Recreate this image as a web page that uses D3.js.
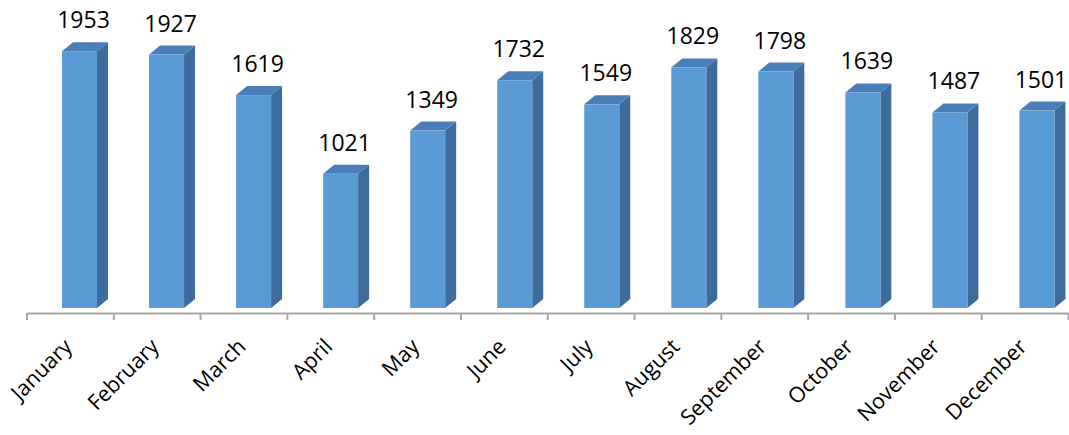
<!DOCTYPE html>
<html>
<head>
<meta charset="utf-8">
<script src="https://cdn.jsdelivr.net/npm/d3@7"></script>
<style>
  html, body { margin: 0; padding: 0; background: #ffffff; }
  svg { display: block; }
</style>
</head>
<body>
<svg id="chart" width="1069" height="435"></svg>
<script>
const months = ["January","February","March","April","May","June","July","August","September","October","November","December"];
const values = [1953, 1927, 1619, 1021, 1349, 1732, 1549, 1829, 1798, 1639, 1487, 1501];

const svg = d3.select("#chart");

const x = d3.scaleBand().domain(months).range([27, 1068.5]).padding(0);
const y = d3.scaleLinear().domain([0, 2000]).range([308, 45]);

const axisY = 313;
const frontW = 35, dx = 11, dy = 9;

const colFront = "#5b9bd5", colTop = "#4a7eb9", colSide = "#3d6b9b";

const g = svg.append("g");

months.forEach((m, i) => {
  const v = values[i];
  const x0 = x(m) + 35 + i * 0.25;
  const x1 = x0 + frontW;
  const yt = y(v), yb = y(0);
  const bar = g.append("g");
  bar.append("path")
    .attr("d", `M${x1},${yb} L${x1},${yt} L${x1 + dx},${yt - dy} L${x1 + dx},${yb - dy} Z`)
    .attr("fill", colSide);
  bar.append("path")
    .attr("d", `M${x0},${yt} L${x0 + dx},${yt - dy} L${x1 + dx},${yt - dy} L${x1},${yt} Z`)
    .attr("fill", colTop);
  bar.append("rect")
    .attr("x", x0).attr("y", yt)
    .attr("width", frontW).attr("height", yb - yt)
    .attr("fill", colFront);
  g.append("text")
    .attr("x", x0 + frontW / 2 + 4)
    .attr("y", yt - 23)
    .attr("text-anchor", "middle")
    .attr("font-family", "Open Sans, sans-serif")
    .attr("font-size", 23)
    .attr("fill", "#000")
    .text(v);
});

const axis = d3.axisBottom(x).tickSize(0).tickFormat("");
const ax = svg.append("g").attr("transform", `translate(0,${axisY})`).call(axis);
ax.select(".domain").attr("stroke", "#a6a6a6").attr("stroke-width", 2);

const bounds = months.map(m => x(m)).concat([x.range()[1]]);
ax.selectAll("line.bt").data(bounds).enter().append("line")
  .attr("class", "bt")
  .attr("x1", d => d).attr("x2", d => d)
  .attr("y1", 0).attr("y2", 7)
  .attr("stroke", "#a6a6a6").attr("stroke-width", 2);

ax.selectAll("text.lbl").data(months).enter().append("text")
  .attr("class", "lbl")
  .attr("transform", d => `translate(${x(d) + x.bandwidth() / 2 + 3},${35}) rotate(-45)`)
  .attr("text-anchor", "end")
  .attr("font-family", "Open Sans, sans-serif")
  .attr("font-size", 21.5)
  .attr("fill", "#000")
  .text(d => d);
</script>
</body>
</html>
